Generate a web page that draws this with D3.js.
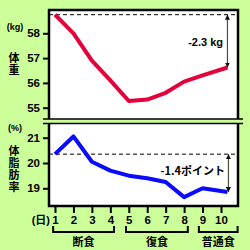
<!DOCTYPE html>
<html>
<head>
<meta charset="utf-8">
<script src="https://cdn.jsdelivr.net/npm/d3@7"></script>
<style>
  html, body { margin: 0; padding: 0; background: #ccff99; }
  text { font-family: "Liberation Sans", Arial, "Noto Sans CJK JP", sans-serif; font-weight: bold; }
  .jp { font-family: "Noto Sans CJK JP", sans-serif; font-weight: bold; }
</style>
</head>
<body>
<div id="chart"></div>
<script>
// day ticks and measurement positions (the last point sits a bit past tick 10 in the picture)
const days = [1, 2, 3, 4, 5, 6, 7, 8, 9, 10];
const measureDays = [1, 2, 3, 4, 5, 6, 7, 8, 9, 10.35];
const weight = [58.75, 58.0, 56.9, 56.1, 55.27, 55.33, 55.6, 56.05, 56.3, 56.62];
const bodyFat = [20.35, 21.05, 20.05, 19.7, 19.5, 19.4, 19.25, 18.65, 19.0, 18.85];
const weightTicks = [55, 56, 57, 58];
const fatTicks = [19, 20, 21];
const phases = [
    { name: "断食", from: 0.9, to: 4.2 },
    { name: "復食", from: 4.85, to: 8.2 },
    { name: "普通食", from: 8.8, to: 10.9 }
];
const weightNote = "-2.3 kg";
const fatNote = "-1.4ポイント";

const width = 250, height = 250;
const left = 49, right = 238;
const topY0 = 10, topY1 = 119;
const botY0 = 123.5, botY1 = 206;

const svg = d3.select("#chart").append("svg")
    .attr("width", width)
    .attr("height", height);

svg.append("rect").attr("width", width).attr("height", height).attr("fill", "#ccff99");

const x = d3.scaleLinear().domain([1, 10]).range([55, 221]);
const yW = d3.scaleLinear().domain([55, 58]).range([107.7, 33.3]);
const yF = d3.scaleLinear().domain([19, 21]).range([188.3, 137.7]);

// arrow marker
const defs = svg.append("defs");
defs.append("marker")
    .attr("id", "head")
    .attr("viewBox", "0 0 10 10")
    .attr("refX", 10).attr("refY", 5)
    .attr("markerWidth", 5).attr("markerHeight", 5)
    .attr("orient", "auto-start-reverse")
    .attr("markerUnits", "userSpaceOnUse")
    .append("path")
    .attr("d", "M0,0 L10,5 L0,10 Z")
    .attr("fill", "#111");

// plot panels
svg.append("rect").attr("x", left).attr("y", topY0)
    .attr("width", right - left).attr("height", topY1 - topY0).attr("fill", "#fff");
svg.append("rect").attr("x", left).attr("y", botY0)
    .attr("width", right - left).attr("height", botY1 - botY0).attr("fill", "#fff");

// reference dashed lines
svg.append("line").attr("x1", left).attr("x2", right)
    .attr("y1", yW(weight[0])).attr("y2", yW(weight[0]))
    .attr("stroke", "#000").attr("stroke-width", 1).attr("stroke-dasharray", "4,3");
svg.append("line").attr("x1", left).attr("x2", right)
    .attr("y1", yF(bodyFat[0])).attr("y2", yF(bodyFat[0]))
    .attr("stroke", "#000").attr("stroke-width", 1).attr("stroke-dasharray", "4,3");

// data lines
const lineW = d3.line().x((d, i) => x(measureDays[i])).y(d => yW(d));
const lineF = d3.line().x((d, i) => x(measureDays[i])).y(d => yF(d));

svg.append("path").datum(weight)
    .attr("d", lineW)
    .attr("fill", "none")
    .attr("stroke", "#e4003a")
    .attr("stroke-width", 4)
    .attr("stroke-linejoin", "round");

svg.append("path").datum(bodyFat)
    .attr("d", lineF)
    .attr("fill", "none")
    .attr("stroke", "#0a0aff")
    .attr("stroke-width", 4)
    .attr("stroke-linejoin", "round");

// frames
const frame = svg.append("g").attr("stroke", "#000").attr("fill", "none");
frame.append("path").attr("stroke-width", 2.5)
    .attr("d", `M${left},${topY1} V${topY0} H${right} V${topY1}`);
frame.append("path").attr("stroke-width", 2.5)
    .attr("d", `M${left},${botY0} V${botY1} H${right} V${botY0}`);
frame.append("line").attr("stroke-width", 1.5)
    .attr("x1", 43).attr("x2", 243).attr("y1", topY1).attr("y2", topY1);
frame.append("line").attr("stroke-width", 1.5)
    .attr("x1", 43).attr("x2", 243).attr("y1", botY0).attr("y2", botY0);

// axes
function styleAxis(g) {
    g.select(".domain").remove();
    g.selectAll(".tick line").attr("stroke", "#000").attr("stroke-width", 2);
    g.selectAll(".tick text").attr("fill", "#000").style("font-size", "11.5px");
}

svg.append("g")
    .attr("transform", `translate(${left},0)`)
    .call(d3.axisLeft(yW).tickValues(weightTicks).tickFormat(d3.format("d")).tickSize(6).tickPadding(3))
    .call(styleAxis);

svg.append("g")
    .attr("transform", `translate(${left},0)`)
    .call(d3.axisLeft(yF).tickValues(fatTicks).tickFormat(d3.format("d")).tickSize(6).tickPadding(3))
    .call(styleAxis);

svg.append("g")
    .attr("transform", `translate(0,${botY1})`)
    .call(d3.axisBottom(x).tickValues(days).tickFormat(d3.format("d")).tickSize(7).tickPadding(3))
    .call(styleAxis);

svg.append("text").attr("x", 50).attr("y", 224)
    .attr("text-anchor", "end").style("font-size", "11px")
    .text("(日)");

// axis titles
svg.append("text").attr("x", 15).attr("y", 30)
    .attr("text-anchor", "middle").style("font-size", "9px").text("(kg)");
svg.append("text").attr("x", 15).attr("y", 131)
    .attr("text-anchor", "middle").style("font-size", "9px").text("(%)");

// vertical titles
svg.append("text")
    .attr("class", "jp")
    .attr("x", 14).attr("y", 52)
    .style("writing-mode", "vertical-rl")
    .style("letter-spacing", "1px")
    .style("font-size", "11px")
    .text("体重");

svg.append("text")
    .attr("class", "jp")
    .attr("x", 14).attr("y", 145)
    .style("writing-mode", "vertical-rl")
    .style("letter-spacing", "1px")
    .style("font-size", "11px")
    .text("体脂肪率");

// difference arrows
const lastW = weight[weight.length - 1];
const lastF = bodyFat[bodyFat.length - 1];
const endX = x(measureDays[measureDays.length - 1]);

svg.append("line")
    .attr("x1", endX).attr("x2", endX)
    .attr("y1", yW(weight[0])).attr("y2", yW(lastW))
    .attr("stroke", "#4a4f3c").attr("stroke-width", 1.2)
    .attr("marker-start", "url(#head)").attr("marker-end", "url(#head)");
svg.append("text").attr("x", 223).attr("y", 46)
    .attr("text-anchor", "end").style("font-size", "11px").text(weightNote);

svg.append("line")
    .attr("x1", endX + 1).attr("x2", endX + 1)
    .attr("y1", yF(bodyFat[0])).attr("y2", yF(lastF))
    .attr("stroke", "#4a4f3c").attr("stroke-width", 1.2)
    .attr("marker-start", "url(#head)").attr("marker-end", "url(#head)");
svg.append("text").attr("x", 225).attr("y", 175)
    .attr("class", "jp")
    .attr("text-anchor", "end").style("font-size", "11px").text(fatNote);

// phase brackets
const br = svg.append("g").selectAll("g").data(phases).join("g");
br.append("path")
    .attr("d", d => `M${x(d.from)},226 V232 H${x(d.to)} V226`)
    .attr("fill", "none").attr("stroke", "#000").attr("stroke-width", 2);
br.append("text")
    .attr("class", "jp")
    .attr("x", d => (x(d.from) + x(d.to)) / 2)
    .attr("y", 246)
    .attr("text-anchor", "middle")
    .style("font-size", "11px")
    .text(d => d.name);
</script>
</body>
</html>
